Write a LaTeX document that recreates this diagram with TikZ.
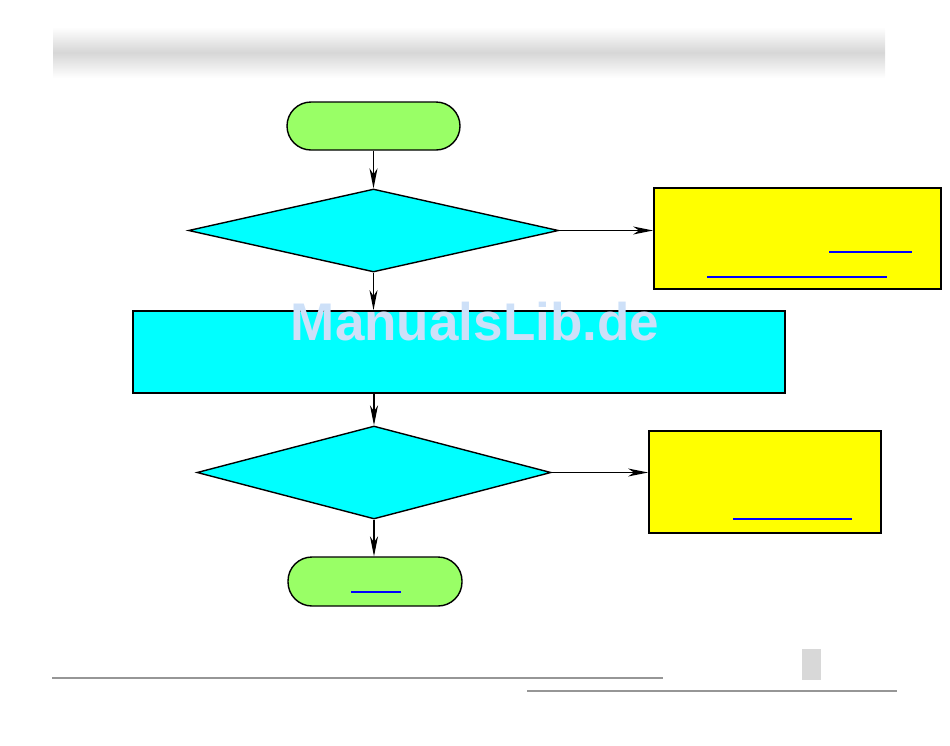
\documentclass[tikz,border=0pt]{standalone}
\usepackage{fontspec}
\setmainfont{Liberation Sans}
\usetikzlibrary{shapes.geometric,arrows.meta}
\definecolor{termgreen}{RGB}{153,255,102}
\definecolor{boxcyan}{RGB}{0,255,255}
\definecolor{noteyellow}{RGB}{255,255,0}
\definecolor{linkblue}{RGB}{0,0,255}
\definecolor{wmblue}{RGB}{205,224,248}
\definecolor{footgray}{RGB}{150,150,150}
\definecolor{tabgray}{RGB}{216,216,216}
\tikzset{
  terminal/.style={draw=black, line width=1.4, fill=termgreen, rounded corners=24, minimum width=173, minimum height=48, inner sep=0},
  decision/.style={draw=black, line width=1.4, fill=boxcyan, diamond, inner sep=0, minimum width=#1},
  process/.style={draw=black, line width=1.8, fill=boxcyan, rectangle, inner sep=0},
  note/.style={draw=black, line width=1.8, fill=noteyellow, rectangle, inner sep=0},
  flow/.style={line width=1.5, -{Stealth[length=20pt,width=8pt,inset=6pt]}},
  linkline/.style={linkblue, line width=1.5},
  footline/.style={footgray, line width=2}
}
\begin{document}
\begin{tikzpicture}[x=1pt,y=-1pt]
\useasboundingbox (0,0) rectangle (950,745);
% header band
\shade[top color=white, bottom color=white, middle color=black!16] (53,27) rectangle (885,78);
% shapes
\node[terminal] (start) at (373.5,126) {};
\node[decision=370, minimum height=83] (d1) at (373.5,230.5) {};
\node[note, minimum width=287, minimum height=101] (n1) at (797.5,238.5) {};
\node[process, minimum width=652, minimum height=82] (p1) at (459,352) {};
\node[decision=354, minimum height=93] (d2) at (374,472.5) {};
\node[note, minimum width=232, minimum height=102] (n2) at (765,482) {};
\node[terminal, minimum width=174, minimum height=49] (stop) at (375,581.5) {};
% connectors
\draw[flow] (start.south -| d1.north) -- (d1.north);
\draw[flow] (d1.east) -- (n1.west |- d1.east);
\draw[flow] (d1.south) -- (p1.north -| d1.south);
\draw[flow] (p1.south -| d2.north) -- (d2.north);
\draw[flow] (d2.east) -- (n2.west |- d2.east);
\draw[flow] (d2.south) -- (stop.north -| d2.south);
% link underlines
\draw[linkline] (829,252) -- (912,252);
\draw[linkline] (707,277) -- (887,277);
\draw[linkline] (733,519) -- (852,519);
\draw[linkline] (351,592) -- (401,592);
% watermark
\node[text=wmblue, font=\bfseries\fontsize{53}{58}\selectfont, inner sep=0] (wm) at (475,322) {ManualsLib.de};
% footer
\draw[footline] (52,678) -- (663,678);
\draw[footline] (527,691) -- (897,691);
\fill[tabgray] (802,649) rectangle (821,680);
\end{tikzpicture}
\end{document}
